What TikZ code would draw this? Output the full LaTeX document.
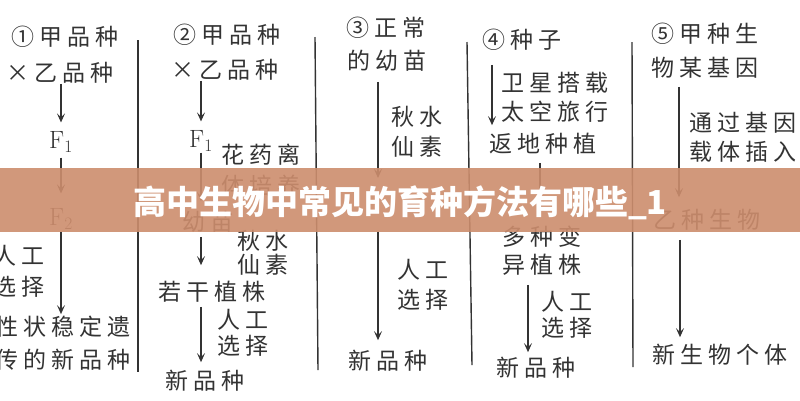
\documentclass[tikz,border=0pt]{standalone}
\usepackage{fontspec}
\newfontfamily\cjk{Noto Sans CJK SC}[LetterSpace=22]
\newfontfamily\cjktitle{Noto Sans CJK SC}
\usetikzlibrary{arrows.meta}
\definecolor{ink}{HTML}{333333}
\definecolor{band}{HTML}{CD8D6D}
\begin{document}
\begin{tikzpicture}[x=1pt,y=-1pt,
  txt/.style={font=\cjk\fontsize{23}{28}\selectfont, text=ink, inner sep=0pt, align=center},
  lbl/.style={txt, anchor=west, align=left},
  ftxt/.style={font=\fontsize{25}{28}\selectfont, text=ink, inner sep=0pt},
  arr/.style={draw=ink, line width=1.3pt, -{Stealth[length=9pt,width=8pt,inset=4pt]}},
  divider/.style={draw=ink, line width=1.4pt},
  banner/.style={fill=band, fill opacity=0.9, draw=none},
  titletxt/.style={font=\cjktitle\bfseries\fontsize{33}{36}\selectfont, text=white, inner sep=0pt}
]
\useasboundingbox (0,0) rectangle (800,400);
\fill[white] (0,0) rectangle (800,400);

% column 1
\node[txt] (c1a) at (65,37) {①甲品种};
\node[txt] (c1b) at (60,73) {×乙品种};
\node[ftxt] (c1F1) at (61,142) {F\textsubscript{1}};
\node[ftxt] (c1F2) at (61,219) {F\textsubscript{2}};
\node[txt, anchor=east, align=right, font=\cjk\fontsize{23}{31}\selectfont] (c1sel) at (45,271.5) {人工\\选择};
\node[txt, anchor=east, font=\cjk\fontsize{23}{33}\selectfont] (c1res) at (131,343.5) {性状稳定遗\\传的新品种};
\draw[arr, shorten >=9pt] (c1b.south -| c1F1) -- (c1F1.north);
\draw[arr, shorten <=5pt, shorten >=15pt] (c1F1.south) -- (c1F2.north);
\draw[arr, shorten <=2pt, shorten >=2pt] (c1F2.south) -- (c1F2.south |- c1res.north);
\draw[divider] (138,40) -- (138,372);

% column 2
\node[txt] (c2a) at (227,35) {②甲品种};
\node[txt] (c2b) at (225,70) {×乙品种};
\node[ftxt] (c2F1) at (201,141) {F\textsubscript{1}};
\node[lbl, font=\cjk\fontsize{23}{31}\selectfont] (c2l1) at (221,170) {花药离\\体培养};
\node[txt] (c2seed) at (208,222) {幼苗};
\node[lbl, font=\cjk\fontsize{23}{24}\selectfont] (c2l2) at (237,253) {秋水\\仙素};
\node[txt] (c2plant) at (212,292) {若干植株};
\node[lbl, font=\cjk\fontsize{23}{26}\selectfont] (c2l3) at (217,333) {人工\\选择};
\node[txt] (c2res) at (205,381) {新品种};
\draw[arr, shorten >=9pt] (c2b.south -| c2F1) -- (c2F1.north);
\draw[arr, shorten <=1pt, shorten >=10pt] (c2F1.south) -- (c2F1.south |- c2seed.north);
\draw[arr, shorten <=4pt, shorten >=16pt] (c2F1.south |- c2seed.south) -- (c2F1.south |- c2plant.north);
\draw[arr, shorten <=4pt, shorten >=8pt] (c2F1.south |- c2plant.south) -- (c2F1.south |- c2res.north);
\draw[divider] (315,37) -- (318,370);

% column 3
\node[txt] (c3a) at (386,28) {③正常};
\node[txt] (c3b) at (387,61) {的幼苗};
\coordinate (c3mid) at (378,205);
\node[lbl, font=\cjk\fontsize{23}{30}\selectfont] (c3l1) at (391,132) {秋水\\仙素};
\node[lbl, font=\cjk\fontsize{23}{30}\selectfont] (c3l2) at (397,285) {人工\\选择};
\node[txt] (c3res) at (388,361) {新品种};
\draw[arr, shorten <=10pt, shorten >=27pt] (c3b.south -| c3mid) -- (c3mid);
\draw[arr, shorten <=27pt, shorten >=10pt] (c3mid) -- (c3mid |- c3res.north);
\draw[divider] (467,42) -- (472,365);

% column 4
\node[txt] (c4a) at (522,40) {④种子};
\node[lbl, font=\cjk\fontsize{23}{29}\selectfont] (c4l1) at (501,97.5) {卫星搭载\\太空旅行};
\node[txt] (c4land) at (543,144) {返地种植};
\node[txt, font=\cjk\fontsize{23}{28}\selectfont] (c4mut) at (542,251) {多种变\\异植株};
\node[lbl, font=\cjk\fontsize{23}{26}\selectfont] (c4l2) at (541,315) {人工\\选择};
\node[txt] (c4res) at (536,368) {新品种};
\draw[arr, shorten <=14pt, shorten >=8pt] ([xshift=-30pt]c4a.south) -- ([xshift=-51pt]c4land.north);
\draw[arr, shorten <=8pt, shorten >=16pt] ([xshift=-3pt]c4land.south) -- ([xshift=-3pt]c4land.south |- c4mut.north);
\draw[arr, shorten <=9pt, shorten >=5pt] ([xshift=-14pt]c4mut.south) -- ([xshift=-8pt]c4res.north);
\draw[divider] (632,42) -- (633,367);

% column 5
\node[txt] (c5a) at (705,34) {⑤甲种生};
\node[txt] (c5b) at (705,68) {物某基因};
\node[lbl, font=\cjk\fontsize{23}{29}\selectfont] (c5l1) at (689,137.5) {通过基因\\载体插入};
\node[txt] (c5sp) at (707,220) {乙种生物};
\node[txt] (c5res) at (720,355) {新生物个体};
\draw[arr, shorten <=8pt, shorten >=12pt] ([xshift=-26pt]c5b.south) -- ([xshift=-28pt]c5sp.north);
\draw[arr, shorten <=9pt, shorten >=7pt] ([xshift=-27pt]c5sp.south) -- ([xshift=-40pt]c5res.north);

% banner
\path[banner] (0,168) rectangle (800,232);
\node[titletxt] (title) at (400,203) {高中生物中常见的育种方法有哪些\_1};
\end{tikzpicture}
\end{document}
